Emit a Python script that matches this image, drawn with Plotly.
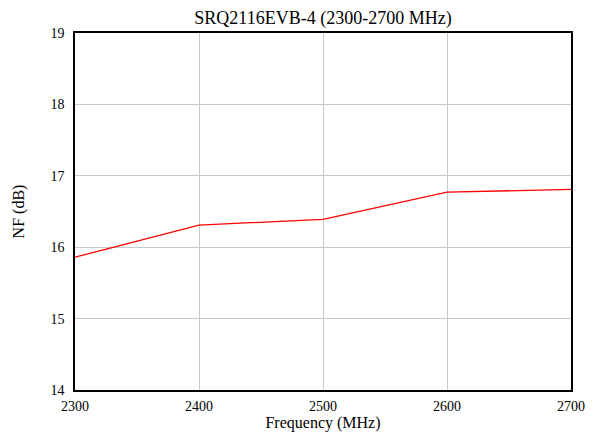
import plotly.graph_objects as go

freq = [2300, 2400, 2500, 2600, 2700]
nf = [15.86, 16.31, 16.39, 16.77, 16.81]
x_ticks = [2300, 2400, 2500, 2600, 2700]
y_ticks = [14, 15, 16, 17, 18, 19]

fig = go.Figure()
fig.add_trace(go.Scatter(x=freq, y=nf, mode="lines",
                         line=dict(color="red", width=1.3), showlegend=False))

font = "Liberation Serif, Times New Roman, serif"
fig.update_layout(
    width=601, height=438,
    margin=dict(l=67, r=38, t=25, b=56),
    paper_bgcolor="white", plot_bgcolor="white",
    font=dict(family=font, size=14, color="black"),
    title=dict(text="SRQ2116EVB-4 (2300-2700 MHz)", x=0.5, xanchor="center",
               xref="paper",
               y=1, yref="container", yanchor="top", pad=dict(t=3),
               font=dict(family=font, size=18, color="black")),
)
fig.update_xaxes(range=[2300, 2700], tickvals=x_ticks, showgrid=True,
                 gridcolor="#c8c8c8", gridwidth=1, showline=True, linecolor="black",
                 linewidth=1.5, mirror=True, ticks="", zeroline=False,
                 ticklabelstandoff=2, automargin=False,
                 title=dict(text="Frequency (MHz)", standoff=2,
                            font=dict(family=font, size=16)))
fig.update_yaxes(range=[14, 19], tickvals=y_ticks, showgrid=True,
                 gridcolor="#c8c8c8", gridwidth=1, showline=True, linecolor="black",
                 linewidth=1.5, mirror=True, ticks="", zeroline=False,
                 ticklabelstandoff=6, automargin=False,
                 title=dict(text="NF (dB)", standoff=22,
                            font=dict(family=font, size=16)))
fig.write_html("out.html")
